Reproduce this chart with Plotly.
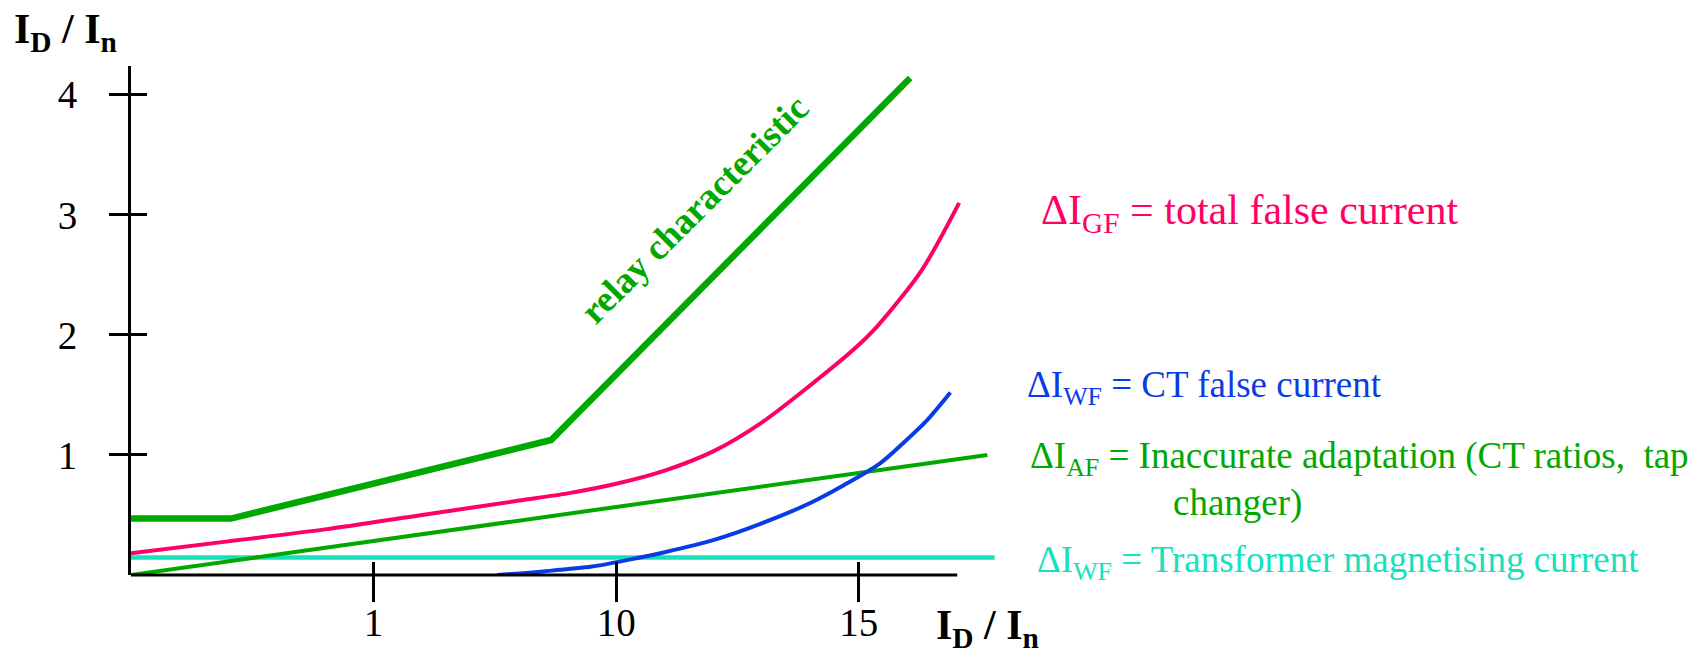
import plotly.graph_objects as go

# ---------------- data ----------------
relay_x = [0, 2.06, 8.66, 16.06]
relay_y = [0.47, 0.47, 1.125, 4.14]

total_x = [0, 2, 4, 6, 8, 9, 10, 11, 12, 13, 14, 14.9, 15.4, 16.3, 17.07]
total_y = [0.18, 0.28, 0.38, 0.50, 0.62, 0.68, 0.76, 0.87, 1.03, 1.27, 1.58, 1.88, 2.08, 2.54, 3.10]

ct_x = [7.55, 8.5, 9.5, 10.3, 11, 12, 13, 14, 14.7, 15.44, 16, 16.41, 16.89]
ct_y = [0, 0.03, 0.07, 0.13, 0.19, 0.29, 0.43, 0.60, 0.75, 0.93, 1.13, 1.29, 1.52]

adapt_x = [0, 17.65]
adapt_y = [0, 1.0]

mag_x = [0, 17.8]
mag_y = [0.146, 0.146]

x_tickvals = [5, 10, 15]
x_ticktext = ["1", "10", "15"]
y_tickvals = [1, 2, 3, 4]
y_ticktext = ["1", "2", "3", "4"]

X_RANGE = [0, 17.85]
Y_RANGE = [0, 4.24]
X_AXIS_END = 17.03

# ---------------- styling ----------------
GREEN = "#00a800"
PINK = "#ff0066"
BLUE = "#0a3ce6"
CYAN = "#18e0bc"
FONT = "Liberation Serif, Times New Roman, Tinos, serif"

OFF = 8  # default page body margin
W, H = 1698 - OFF, 657 - OFF
# plot area in page pixels
PL, PR, PT, PB = 131, 997, 66, 575


def pxx(xp):
    return (xp - PL) / (PR - PL)


def pxy(yp):
    return (PB - yp) / (PB - PT)


fig = go.Figure()
fig.add_trace(go.Scatter(x=mag_x, y=mag_y, mode="lines",
                         line=dict(color=CYAN, width=4.5), hoverinfo="skip"))
fig.add_trace(go.Scatter(x=adapt_x, y=adapt_y, mode="lines",
                         line=dict(color=GREEN, width=4), hoverinfo="skip"))
fig.add_trace(go.Scatter(x=ct_x, y=ct_y, mode="lines",
                         line=dict(color=BLUE, width=4, shape="spline", smoothing=0.8),
                         hoverinfo="skip"))
fig.add_trace(go.Scatter(x=total_x, y=total_y, mode="lines",
                         line=dict(color=PINK, width=4, shape="spline", smoothing=0.8),
                         hoverinfo="skip"))
fig.add_trace(go.Scatter(x=relay_x, y=relay_y, mode="lines",
                         line=dict(color=GREEN, width=6.5), hoverinfo="skip"))
# helper trace so that the overlay axes (inner tick halves) exist
fig.add_trace(go.Scatter(x=relay_x[:1], y=relay_y[:1], xaxis="x2", yaxis="y2",
                         mode="markers", marker=dict(opacity=0), hoverinfo="skip"))

tickfont = dict(family=FONT, size=39, color="black")

fig.update_layout(
    width=W, height=H, autosize=False,
    margin=dict(l=PL - OFF, r=1698 - PR, t=PT - OFF, b=657 - PB, pad=0, autoexpand=False),
    paper_bgcolor="white", plot_bgcolor="white",
    showlegend=False,
    xaxis=dict(range=X_RANGE, tickmode="array", tickvals=x_tickvals, ticktext=x_ticktext,
               ticks="outside", ticklen=26, tickwidth=3, tickcolor="black",
               showline=False, showgrid=False, zeroline=False, automargin=False,
               tickfont=tickfont, ticklabelstandoff=-13, fixedrange=True),
    yaxis=dict(range=Y_RANGE, tickmode="array", tickvals=y_tickvals, ticktext=y_ticktext,
               ticks="outside", ticklen=19, tickwidth=3, tickcolor="black",
               showline=True, linewidth=3, linecolor="black",
               showgrid=False, zeroline=False, automargin=False,
               tickfont=tickfont, ticklabelstandoff=24, fixedrange=True),
    xaxis2=dict(range=X_RANGE, overlaying="x", anchor="y", side="bottom",
                tickmode="array", tickvals=x_tickvals, ticks="inside", ticklen=13,
                tickwidth=3, tickcolor="black", showticklabels=False, automargin=False,
                showline=False, showgrid=False, zeroline=False, fixedrange=True),
    yaxis2=dict(range=Y_RANGE, overlaying="y", anchor="x", side="left",
                tickmode="array", tickvals=y_tickvals, ticks="inside", ticklen=16,
                tickwidth=3, tickcolor="black", showticklabels=False, automargin=False,
                showline=False, showgrid=False, zeroline=False, fixedrange=True),
)

# x axis line (shorter than the plotted curves)
fig.add_shape(type="line", xref="x", yref="paper", x0=0, x1=X_AXIS_END, y0=0, y1=0,
              line=dict(color="black", width=3), layer="above")


def ann(text, xp, yp, color, size=38, anchor="left", angle=0, bold=False):
    if bold:
        text = "<b>" + text + "</b>"
    fig.add_annotation(text=text, xref="paper", yref="paper", x=pxx(xp), y=pxy(yp),
                       xanchor=anchor, yanchor="middle", showarrow=False,
                       textangle=angle, font=dict(family=FONT, size=size, color=color),
                       borderpad=0)


ann("I<sub>D</sub> / I<sub>n</sub>", 13, 32, "black", size=42, bold=True)
ann("I<sub>D</sub> / I<sub>n</sub>", 935, 628, "black", size=42, bold=True)
ann("relay characteristic", 694, 209, GREEN, size=37, anchor="center", angle=-45, bold=True)
ann("ΔI<sub>GF</sub> = total false current", 1040, 213, PINK, size=42)
ann("ΔI<sub>WF</sub> = CT false current", 1026, 387, BLUE, size=37)
ann("ΔI<sub>AF</sub> = Inaccurate adaptation (CT ratios,\u00a0 tap", 1029, 458, GREEN, size=37)
ann("changer)", 1172, 503, GREEN, size=37)
ann("ΔI<sub>WF</sub> = Transformer magnetising current", 1036, 562, CYAN, size=37)

fig.write_html("out.html", config={"displayModeBar": False})
